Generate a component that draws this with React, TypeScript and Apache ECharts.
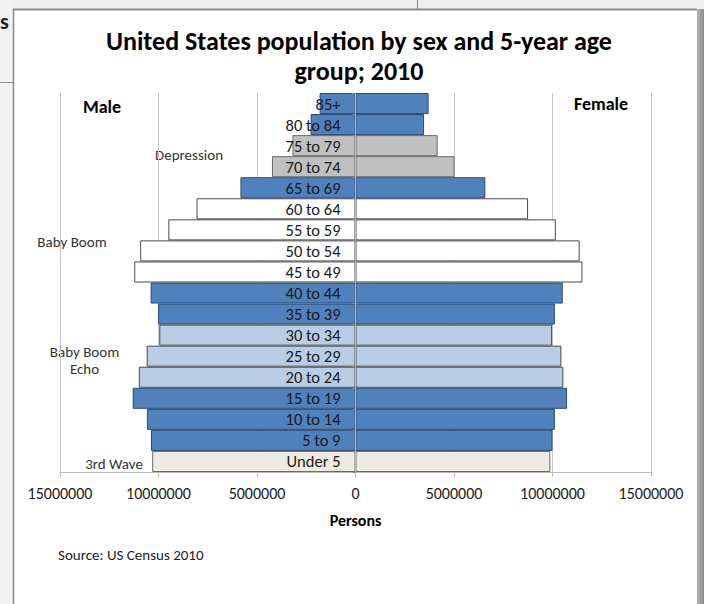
import React, { useEffect, useRef } from "react";
import * as echarts from "echarts";

const categories = [
  "Under 5", "5 to 9", "10 to 14", "15 to 19", "20 to 24", "25 to 29", "30 to 34",
  "35 to 39", "40 to 44", "45 to 49", "50 to 54", "55 to 59", "60 to 64", "65 to 69",
  "70 to 74", "75 to 79", "80 to 84", "85+",
];
const male = [
  10320000, 10380000, 10590000, 11310000, 11000000, 10600000, 9960000,
  10020000, 10400000, 11230000, 10930000, 9500000, 8070000, 5840000,
  4240000, 3200000, 2280000, 1820000,
];
const female = [
  9890000, 10000000, 10120000, 10740000, 10550000, 10450000, 9980000,
  10120000, 10520000, 11520000, 11380000, 10170000, 8760000, 6590000,
  5030000, 4170000, 3480000, 3710000,
];
const groups = [
  "wave", "blue", "blue", "blue", "echo", "echo", "echo",
  "blue", "blue", "boom", "boom", "boom", "boom", "blue",
  "dep", "dep", "blue", "blue",
];
const xTicks = [-15000000, 15000000, 5000000];

const FONT = "Carlito, Calibri, 'Open Sans', sans-serif";

const groupStyle: Record<string, { color: string; borderColor: string }> = {
  blue: { color: "#4f81bd", borderColor: "#2e4a70" },
  echo: { color: "#b9cde5", borderColor: "#4a4a4a" },
  boom: { color: "#ffffff", borderColor: "#4a4a4a" },
  dep: { color: "#c0c0c0", borderColor: "#6a6a6a" },
  wave: { color: "#eeece1", borderColor: "#6a6a6a" },
};

const GRID_LEFT = 60;
const GRID_RIGHT = 53;
const W = 704;

export default function App() {
  const ref = useRef<HTMLDivElement>(null);
  useEffect(() => {
    if (!ref.current) return;
    const chart = echarts.init(ref.current, null, { renderer: "svg" });
    const mk = (vals: number[], sign: number) =>
      vals.map((v, i) => ({
        value: sign * v,
        itemStyle: { ...groupStyle[groups[i]], borderWidth: 1 },
      }));
    const gridW = W - GRID_LEFT - GRID_RIGHT;
    const zeroOffset = (gridW * (0 - xTicks[0])) / (xTicks[1] - xTicks[0]);
    chart.setOption({
      animation: false,
      backgroundColor: "#ffffff",
      textStyle: { fontFamily: FONT },
      title: {
        text: "United States population by sex and 5-year age\ngroup; 2010",
        left: 354,
        textAlign: "center",
        top: 21,
        textStyle: {
          fontFamily: FONT,
          fontSize: 26,
          fontWeight: "bold",
          color: "#000",
          lineHeight: 30,
        },
      },
      grid: { left: GRID_LEFT, right: GRID_RIGHT, top: 93, bottom: 132 },
      xAxis: {
        type: "value",
        min: xTicks[0],
        max: xTicks[1],
        interval: xTicks[2],
        name: "Persons",
        nameLocation: "middle",
        nameGap: 40,
        nameTextStyle: { fontFamily: FONT, fontSize: 16, fontWeight: "bold", color: "#000" },
        axisLine: { show: true, lineStyle: { color: "#bfbfbf" } },
        axisTick: { show: true, length: 5, lineStyle: { color: "#bfbfbf" } },
        axisLabel: {
          fontFamily: FONT,
          fontSize: 16,
          color: "#1a1a1a",
          margin: 13,
          formatter: (v: number) => String(Math.abs(v)),
        },
        splitLine: { show: true, lineStyle: { color: "#c8c8c8" } },
      },
      yAxis: {
        type: "category",
        data: categories,
        z: 10,
        offset: -zeroOffset,
        axisLine: { onZero: false, lineStyle: { color: "#bfbfbf" } },
        axisTick: { show: true, length: 3, lineStyle: { color: "#8a8a8a" } },
        axisLabel: {
          interval: 0,
          fontFamily: FONT,
          fontSize: 16.5,
          color: "#1a1a1a",
          margin: 15,
        },
        splitLine: { show: false },
      },
      series: [
        {
          name: "Male",
          type: "bar",
          stack: "pop",
          barCategoryGap: 0,
          data: mk(male, -1),
        },
        {
          name: "Female",
          type: "bar",
          stack: "pop",
          barCategoryGap: 0,
          data: mk(female, 1),
        },
      ],
      graphic: [
        { type: "rect", z: -10, silent: true, shape: { x: 0, y: 0, width: 704, height: 9 }, style: { fill: "#efefef" } },
        { type: "rect", z: -10, silent: true, shape: { x: 0, y: 0, width: 13, height: 604 }, style: { fill: "#f2f2f2" } },
        {
          type: "rect", z: -10, silent: true,
          shape: { x: 697, y: 9, width: 7, height: 595 },
          style: {
            fill: new echarts.graphic.LinearGradient(0, 0, 1, 0, [
              { offset: 0, color: "#b4b4b4" },
              { offset: 1, color: "#8c8c8c" },
            ]),
          },
        },
        { type: "line", z: -5, silent: true, shape: { x1: 13, y1: 9.5, x2: 697, y2: 9.5 }, style: { stroke: "#8a8a8a", lineWidth: 2 } },
        { type: "line", z: -5, silent: true, shape: { x1: 13.5, y1: 9, x2: 13.5, y2: 604 }, style: { stroke: "#8a8a8a", lineWidth: 1.5 } },
        { type: "line", z: -5, silent: true, shape: { x1: 417.5, y1: 0, x2: 417.5, y2: 9 }, style: { stroke: "#8a8a8a", lineWidth: 1 } },
        { type: "line", z: -5, silent: true, shape: { x1: 0, y1: 82.5, x2: 13, y2: 82.5 }, style: { stroke: "#8a8a8a", lineWidth: 1 } },
        { type: "text", silent: true, x: 0, y: 10, style: { text: "s", font: `bold 22px ${FONT}`, fill: "#222" } },
        { type: "text", silent: true, x: 102, y: 107, style: { text: "Male", font: `bold 18px ${FONT}`, fill: "#000", align: "center", verticalAlign: "middle" } },
        { type: "text", silent: true, x: 601, y: 104, style: { text: "Female", font: `bold 18px ${FONT}`, fill: "#000", align: "center", verticalAlign: "middle" } },
        { type: "text", silent: true, x: 189, y: 155, style: { text: "Depression", font: `15px ${FONT}`, fill: "#333", align: "center", verticalAlign: "middle" } },
        { type: "text", silent: true, x: 72, y: 242, style: { text: "Baby Boom", font: `15px ${FONT}`, fill: "#333", align: "center", verticalAlign: "middle" } },
        { type: "text", silent: true, x: 84.5, y: 360.5, style: { text: "Baby Boom\nEcho", font: `15px ${FONT}`, lineHeight: 17, fill: "#333", align: "center", verticalAlign: "middle" } },
        { type: "text", silent: true, x: 114, y: 464, style: { text: "3rd Wave", font: `15px ${FONT}`, fill: "#333", align: "center", verticalAlign: "middle" } },
        { type: "text", silent: true, x: 58, y: 555, style: { text: "Source: US Census 2010", font: `15px ${FONT}`, fill: "#222", align: "left", verticalAlign: "middle" } },
      ],
    });
    return () => chart.dispose();
  }, []);
  return (
    <div
      ref={ref}
      style={{ position: "absolute", left: 0, top: 0, width: 704, height: 604 }}
    />
  );
}
